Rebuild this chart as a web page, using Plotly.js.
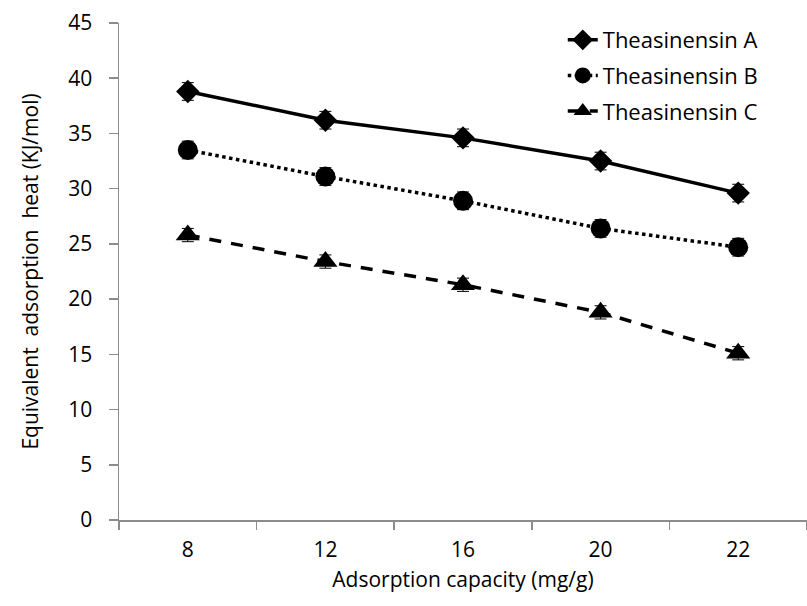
<!DOCTYPE html>
<html><head><meta charset="utf-8">
<script src="https://cdn.plot.ly/plotly-3.0.1.min.js"></script>
<style>html,body{margin:0;padding:0;background:#fff;}#chart{width:807px;height:606px;}</style>
</head><body><div id="chart"></div>
<script>
const categories = ["8", "12", "16", "20", "22"];
const seriesNames = ["Theasinensin A", "Theasinensin B", "Theasinensin C"];
const valuesA = [38.8, 36.2, 34.6, 32.5, 29.6];
const valuesB = [33.5, 31.1, 28.9, 26.4, 24.7];
const valuesC = [25.8, 23.4, 21.3, 18.8, 15.1];
const errA = [0.8, 0.8, 0.8, 0.8, 0.8];
const errB = [0.8, 0.8, 0.8, 0.8, 0.8];
const errC = [0.6, 0.6, 0.6, 0.6, 0.6];
const yTicks = [0, 5, 10, 15, 20, 25, 30, 35, 40, 45];

function trace(name, y, err, symbol, msize, dash) {
  return {
    type: 'scatter', mode: 'lines+markers', name: name, legendgroup: name,
    x: categories, y: y,
    line: {color: '#000', width: 3.5, dash: dash},
    marker: {color: '#000', symbol: symbol, size: msize},
    error_y: {type: 'data', array: err, visible: true, color: '#000', thickness: 1, width: 6}
  };
}
const data = [
  trace(seriesNames[0], valuesA, errA, 'diamond', 18, 'solid'),
  trace(seriesNames[1], valuesB, errB, 'circle', 20, 'dot'),
  trace(seriesNames[2], valuesC, errC, 'triangle-up', 21, '12px,10px')
];
const font = {family: 'Open Sans, Noto Sans, sans-serif', size: 21, color: '#000'};
const legendFont = {family: 'Open Sans, Noto Sans, sans-serif', size: 22, color: '#000'};
const layout = {
  width: 807, height: 606,
  margin: {l: 119, r: 0, t: 23, b: 86},
  paper_bgcolor: '#fff', plot_bgcolor: '#fff',
  font: font,
  showlegend: true,
  legend: {x: 0.645, y: 1.008, xanchor: 'left', yanchor: 'top', font: legendFont, bgcolor: 'rgba(0,0,0,0)', tracegroupgap: 4},
  xaxis: {
    type: 'category', range: [-0.5, 4.5], tickson: 'boundaries',
    showline: true, linecolor: '#8c8c8c', linewidth: 1.5,
    ticks: 'outside', ticklen: 8, tickcolor: '#8c8c8c', tickwidth: 1.5,
    ticklabelstandoff: 10,
    showgrid: false, zeroline: false, tickfont: font,
    title: {text: 'Adsorption capacity (mg/g)', font: font, standoff: 10}
  },
  yaxis: {
    range: [0, 45], tickvals: yTicks, ticktext: yTicks.map(String),
    showline: true, linecolor: '#8c8c8c', linewidth: 1.5,
    ticks: 'outside', ticklen: 9, tickcolor: '#8c8c8c', tickwidth: 1.5,
    ticklabelstandoff: 12,
    showgrid: false, zeroline: false, tickfont: font,
    title: {text: 'Equivalent\u00a0 adsorption\u00a0 heat (KJ/mol)', font: font, standoff: 24}
  }
};
Plotly.newPlot('chart', data, layout, {displayModeBar: false, staticPlot: true});
</script></body></html>
